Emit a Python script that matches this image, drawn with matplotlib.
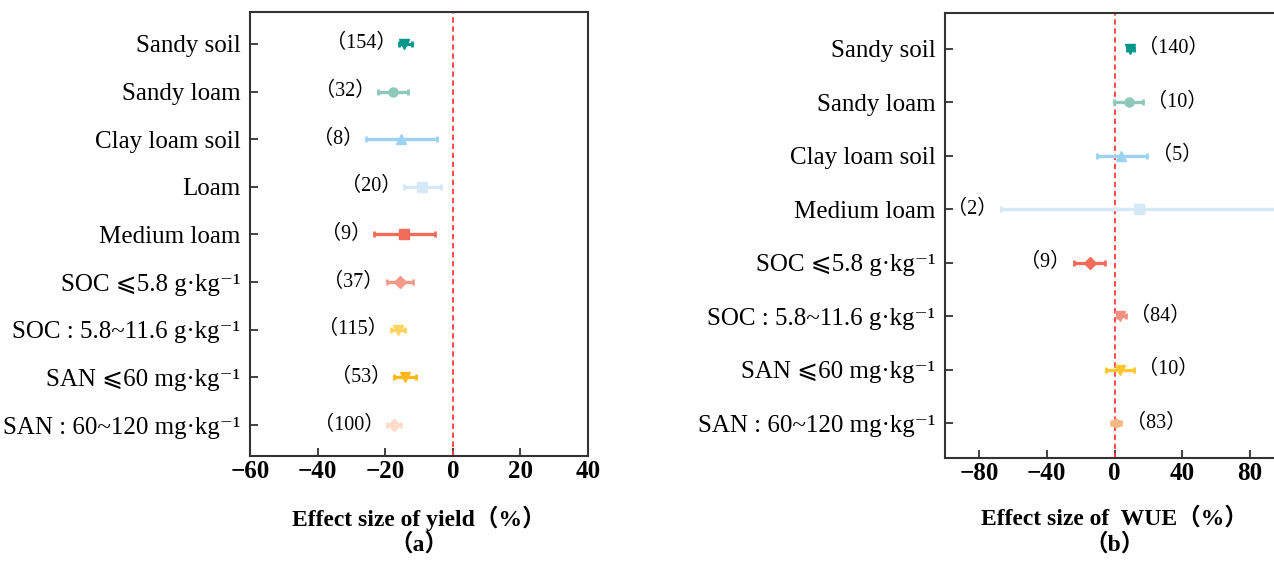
import numpy as np
import matplotlib
matplotlib.use('Agg')
import matplotlib.pyplot as plt

plt.rcParams['font.family'] = ['Liberation Serif', 'DejaVu Serif', 'DejaVu Sans', 'Noto Sans CJK SC']

# panel (a): yield
cats_a = ['Sandy soil', 'Sandy loam', 'Clay loam soil', 'Loam', 'Medium loam',
          'SOC \u2a7d5.8 g\u00b7kg\u207b\u00b9', 'SOC : 5.8~11.6 g\u00b7kg\u207b\u00b9',
          'SAN \u2a7d60 mg\u00b7kg\u207b\u00b9', 'SAN : 60~120 mg\u00b7kg\u207b\u00b9']
mean_a = [-14.5, -17.7, -15.3, -9.0, -14.4, -15.7, -16.2, -14.0, -17.5]
lo_a = [-15.9, -22.0, -25.7, -14.5, -23.2, -19.6, -18.3, -17.5, -19.4]
hi_a = [-12.0, -13.2, -4.7, -3.4, -5.4, -11.9, -14.1, -10.8, -15.2]
n_a = [154, 32, 8, 20, 9, 37, 115, 53, 100]
col_a = ['#00968A', '#8DC8B8', '#9DD3F2', '#D5E8F6', '#F26B5B',
         '#F5998A', '#FFD45E', '#FFB81C', '#FCDCC8']
mk_a = ['v', 'o', '^', 's', 's', 'D', 'v', 'v', 'D']

# panel (b): WUE
cats_b = ['Sandy soil', 'Sandy loam', 'Clay loam soil', 'Medium loam',
          'SOC \u2a7d5.8 g\u00b7kg\u207b\u00b9', 'SOC : 5.8~11.6 g\u00b7kg\u207b\u00b9',
          'SAN \u2a7d60 mg\u00b7kg\u207b\u00b9', 'SAN : 60~120 mg\u00b7kg\u207b\u00b9']
mean_b = [9.2, 8.4, 4.1, 14.3, -14.7, 3.5, 3.5, 1.0]
lo_b = [7.5, -0.2, -10.6, -66.7, -23.7, 1.2, -4.9, -1.8]
hi_b = [11.4, 16.7, 19.4, 110.0, -5.7, 6.7, 11.6, 4.1]
n_b = [140, 10, 5, 2, 9, 84, 10, 83]
col_b = ['#00968A', '#8DC8B8', '#9DD3F2', '#D5E8F6', '#F26B5B',
         '#F4907F', '#FFC630', '#F9B784']
mk_b = ['v', 'o', '^', 's', 'D', 'v', 'v', 'h']


def draw(ax, cats, mean, lo, hi, n, cols, mks, xlim, xticks, xlabel, tag, gap, right_side):
    ys = np.arange(len(cats))
    for i in range(len(cats)):
        err = [[mean[i] - lo[i]], [hi[i] - mean[i]]]
        ax.errorbar(mean[i], ys[i], xerr=err, fmt=mks[i], color=cols[i],
                    ecolor=cols[i], elinewidth=2.4, capsize=2.5, capthick=2,
                    markersize=6.5, zorder=3)
        lab = '\uff08%d\uff09' % n[i]
        if right_side and mean[i] >= 0 and hi[i] < xlim[1]:
            ax.text(hi[i] + gap, ys[i], lab, ha='left', va='center', fontsize=14.5)
        else:
            ax.text(lo[i] - gap, ys[i], lab, ha='right', va='center', fontsize=14.5)
    ax.axvline(0, color='#FF3B3B', linestyle=(0, (3, 2)), linewidth=1.3, zorder=2)
    ax.set_xlim(*xlim)
    ax.set_ylim(len(cats) - 1 + 0.65, -0.67)
    ax.set_yticks(ys)
    ax.set_yticklabels(cats, fontsize=18)
    ax.set_xticks(xticks)
    ax.set_xticklabels(['\u2212%d' % -t if t < 0 else '%d' % t for t in xticks],
                       fontsize=18, fontweight='bold')
    ax.tick_params(direction='in', length=6, width=1.3, color='#333333')
    ax.tick_params(axis='y', pad=7)
    ax.tick_params(axis='x', pad=3)
    for s in ax.spines.values():
        s.set_linewidth(1.5)
        s.set_color('#333333')
    ax.set_xlabel(xlabel + '\n' + tag, fontsize=17, fontweight='bold',
                  labelpad=16, linespacing=1.15)


fig = plt.figure(figsize=(12.74, 5.63), dpi=100)
ax1 = fig.add_axes([250 / 1274, 1 - 456 / 563, 338 / 1274, 444 / 563])
ax2 = fig.add_axes([945 / 1274, 1 - 458 / 563, 339 / 1274, 445 / 563])

draw(ax1, cats_a, mean_a, lo_a, hi_a, n_a, col_a, mk_a, (-60, 40),
     [-60, -40, -20, 0, 20, 40], 'Effect size of yield\uff08%\uff09', '\uff08a\uff09', 0.8, False)
draw(ax2, cats_b, mean_b, lo_b, hi_b, n_b, col_b, mk_b, (-100, 100),
     [-80, -40, 0, 40, 80], 'Effect size of  WUE\uff08%\uff09', '\uff08b\uff09', 2.5, True)

fig.savefig('out.png', dpi=100)
